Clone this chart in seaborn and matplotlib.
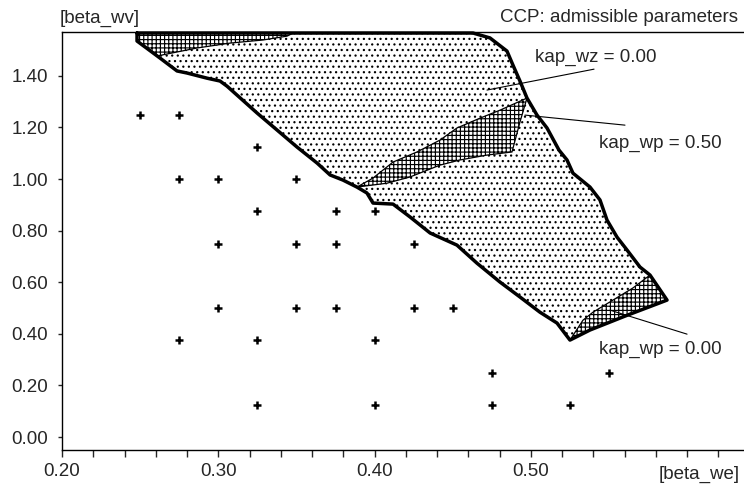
import numpy as np
import pandas as pd
import matplotlib
matplotlib.use("Agg")
import matplotlib.pyplot as plt
import seaborn as sns

# grid points tested (beta_we, beta_wv)
grid_we = [0.25, 0.275,
           0.325,
           0.275, 0.30, 0.35,
           0.325, 0.375, 0.40,
           0.30, 0.35, 0.375, 0.425,
           0.30, 0.35, 0.375, 0.425, 0.45,
           0.275, 0.325, 0.40,
           0.475, 0.55,
           0.325, 0.40, 0.475, 0.525]
grid_wv = [1.25, 1.25,
           1.125,
           1.00, 1.00, 1.00,
           0.875, 0.875, 0.875,
           0.75, 0.75, 0.75, 0.75,
           0.50, 0.50, 0.50, 0.50, 0.50,
           0.375, 0.375, 0.375,
           0.25, 0.25,
           0.125, 0.125, 0.125, 0.125]

# outline of the admissible region (kap_wz = 0.00)
ccp_we = [0.248, 0.463, 0.4738, 0.4847, 0.4885, 0.493, 0.4975, 0.5039, 0.5103,
          0.518, 0.5231, 0.5269, 0.5378, 0.5442, 0.5487, 0.5551, 0.5615, 0.5698,
          0.5762, 0.5871, 0.5615, 0.5378, 0.525, 0.5167, 0.5058, 0.493, 0.4802,
          0.4655, 0.4527, 0.4483, 0.4355, 0.4227, 0.4118, 0.399, 0.3951, 0.3887,
          0.3798, 0.3715, 0.3632, 0.3504, 0.3376, 0.3248, 0.3056, 0.3011, 0.2928,
          0.280, 0.2736, 0.2627, 0.248, 0.248]
ccp_wv = [1.566, 1.566, 1.547, 1.496, 1.442, 1.380, 1.314, 1.248, 1.198,
          1.112, 1.074, 1.023, 0.969, 0.919, 0.841, 0.775, 0.725, 0.659,
          0.628, 0.531, 0.472, 0.415, 0.376, 0.442, 0.484, 0.543, 0.601,
          0.674, 0.744, 0.756, 0.791, 0.853, 0.903, 0.907, 0.946, 0.969,
          0.996, 1.016, 1.062, 1.124, 1.190, 1.256, 1.360, 1.380, 1.391,
          1.411, 1.419, 1.469, 1.535, 1.566]

# cross-hatched sub-regions
top_we = [0.248, 0.348, 0.344, 0.3286, 0.3075, 0.2864, 0.2608, 0.248]
top_wv = [1.566, 1.566, 1.554, 1.539, 1.527, 1.508, 1.477, 1.535]

mid_we = [0.3887, 0.399, 0.4118, 0.4271, 0.4418, 0.4527, 0.4674, 0.4802, 0.4975,
          0.493, 0.4879, 0.4719, 0.4546, 0.4418, 0.4226, 0.4079]
mid_wv = [0.969, 1.004, 1.066, 1.105, 1.151, 1.198, 1.236, 1.267, 1.314,
          1.221, 1.105, 1.093, 1.074, 1.054, 1.008, 0.984]

low_we = [0.525, 0.5333, 0.5397, 0.5525, 0.5653, 0.5762, 0.5871, 0.5615, 0.5378]
low_wv = [0.376, 0.453, 0.484, 0.531, 0.578, 0.628, 0.531, 0.472, 0.415]

# labels: text, text anchor, leader line start, leader line end
labels = ["kap_wz = 0.00", "kap_wp = 0.50", "kap_wp = 0.00"]
label_we = [0.5026, 0.5436, 0.5436]
label_wv = [1.473, 1.140, 0.341]
lead_we0 = [0.4719, 0.4962, 0.5506]
lead_wv0 = [1.345, 1.248, 0.492]
lead_we1 = [0.5404, 0.5602, 0.5999]
lead_wv1 = [1.426, 1.209, 0.399]

sns.set_style("ticks")
plt.rcParams['font.family'] = ['Liberation Sans', 'DejaVu Sans']
plt.rcParams['hatch.linewidth'] = 0.85
plt.rcParams['hatch.color'] = 'black'

fig = plt.figure(figsize=(7.44, 4.88), dpi=100)
ax = fig.add_axes([62 / 744, 1 - 450 / 488, 1 - 62 / 744, (450 - 32) / 488])

# dotted admissible region
ax.fill(ccp_we, ccp_wv, facecolor='white', edgecolor='black', linewidth=0,
        hatch='...', zorder=1)
# cross-hatched parts
for hx, hy in [(top_we, top_wv), (mid_we, mid_wv), (low_we, low_wv)]:
    ax.fill(hx, hy, facecolor='white', edgecolor='black', linewidth=0.9,
            hatch='++++', zorder=2)

ax.plot(ccp_we, ccp_wv, color='black', linewidth=2.5, solid_joinstyle='round',
        zorder=3, clip_on=False)

for i, txt in enumerate(labels):
    ax.plot([lead_we0[i], lead_we1[i]], [lead_wv0[i], lead_wv1[i]],
            color='black', linewidth=0.8, zorder=4)
    ax.text(label_we[i], label_wv[i], txt, fontsize=13.5, ha='left',
            va='center', zorder=5)

df = pd.DataFrame({'beta_we': grid_we, 'beta_wv': grid_wv})
sns.scatterplot(data=df, x='beta_we', y='beta_wv', marker='+', color='black',
                s=38, linewidth=1.8, ax=ax, zorder=6)

ax.set_xlim(0.2, 0.2 + (744 - 62) / 1563)
ax.set_ylim(-0.05, 1.57)
ax.set_xticks([0.2, 0.3, 0.4, 0.5])
ax.set_xticklabels(['0.20', '0.30', '0.40', '0.50'])
ax.set_xticks(np.arange(0.22, 0.63, 0.02), minor=True)
ax.set_yticks(np.arange(0, 1.41, 0.2))
ax.set_yticklabels([f'{v:.2f}' for v in np.arange(0, 1.41, 0.2)])
ax.tick_params(axis='x', which='both', direction='out', length=5, width=1,
               labelsize=13.5, pad=4)
ax.tick_params(axis='y', direction='out', length=3, width=1, labelsize=13.5,
               pad=7)
ax.set_xlabel('')
ax.set_ylabel('')

for side in ['left', 'bottom', 'top']:
    ax.spines[side].set_visible(True)
    ax.spines[side].set_linewidth(1.0)
    ax.spines[side].set_color('black')
ax.spines['right'].set_visible(False)

fig.text(60 / 744, 1 - 18 / 488, '[beta_wv]', fontsize=13.5, ha='left',
         va='center')
fig.text(738 / 744, 1 - 17 / 488, 'CCP: admissible parameters', fontsize=13.5,
         ha='right', va='center')
fig.text(740 / 744, 1 - 474 / 488, '[beta_we]', fontsize=13.5, ha='right',
         va='center')

fig.savefig('out.png', dpi=100)
